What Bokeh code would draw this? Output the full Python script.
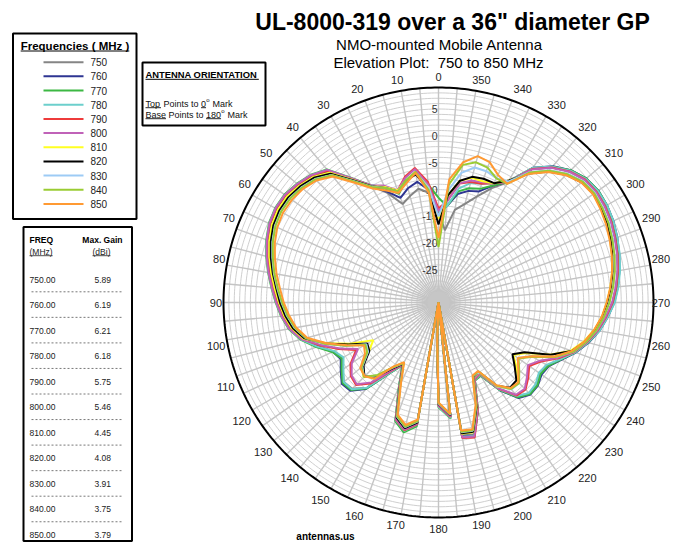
import math
import numpy as np
from bokeh.plotting import figure
from bokeh.models import Range1d
from bokeh.embed import file_html
from bokeh.resources import INLINE
from bokeh.core.properties import value

# ---------------- data ----------------
angles_deg = [0, 5, 10, 15, 20, 25, 30, 35, 40, 45, 50, 55, 60, 65, 70, 75, 80, 85, 90, 95,
              100, 105, 110, 115, 120, 125, 130, 135, 140, 145, 150, 155, 160, 165, 170, 175,
              178, 180, 186, 188,
              190, 195, 200, 205, 210, 215, 220, 225, 230, 235, 240, 245,
              250, 255, 260, 265, 270, 275, 280, 285, 290, 295, 300, 305, 310, 315, 320, 325,
              330, 335, 340, 345, 350, 355]

freq_labels = ["750", "760", "770", "780", "790", "800", "810", "820", "830", "840", "850"]

g750 = [-13, -9.5, -8.5, -9.5, -10.5, -7.5,
        -5, -2.2, 1.8, 3.3, 4.1, 4.7, 4.8, 4.5, 3.8, 2.9, 1.9, 0.9, 0.0, -0.9, -2.0, -3.8,
        -6.3, -8.5, -9.4, -8.2, -7.0, -7.3, -9.3, -14.0, -16.8, -13.0, -7.0, -5.6, -7.2, -30,
        -23, -11, -8.8, -30,
        -5.0, -4.6, -9.0, -14.2, -14.6, -10.3, -7.2, -6.1, -6.3, -7.0, -6.6, -5.0,
        -3.0, -1.4, 0.1, 1.3, 2.4, 3.2, 3.9, 4.5, 5.0, 5.5, 5.8, 5.9, 5.6, 4.5, 2.8, 0.3,
        -4.2, -6.5, -9.0, -11.0, -12.5, -16.5]
g760 = [-13, -9, -7.2, -8, -9.3, -7.2,
        -5, -2.0, 2.0, 3.4, 4.2, 4.8, 4.9, 4.6, 3.9, 3.0, 2.0, 1.0, 0.1, -0.8, -1.9, -3.6,
        -6.0, -8.3, -9.0, -7.8, -6.5, -6.8, -9.0, -13.8, -16.6, -12.6, -6.6, -5.2, -6.8, -30,
        -23, -10.8, -8.5, -30,
        -4.7, -4.3, -8.6, -14.0, -14.4, -10.0, -6.8, -5.8, -5.9, -6.6, -6.3, -4.8,
        -2.8, -1.1, 0.4, 1.6, 2.7, 3.5, 4.2, 4.8, 5.4, 5.9, 6.2, 6.3, 5.9, 4.8, 3.1, 0.6,
        -4.0, -6.0, -8.0, -8.5, -9.5, -12.0]
g770 = [-10.5, -8, -5.5, -6.5, -8.5, -6.5,
        -4.8, -1.7, 2.3, 3.6, 4.4, 5.0, 5.1, 4.8, 4.1, 3.2, 2.2, 1.2, 0.3, -0.6, -1.7, -3.4,
        -5.8, -8.2, -9.2, -8.0, -6.7, -7.0, -9.1, -13.8, -16.5, -12.5, -6.5, -5.0, -6.6, -30,
        -23, -10.5, -8.3, -30,
        -4.5, -4.2, -8.5, -14.0, -14.3, -10.1, -7.0, -5.9, -6.0, -6.8, -6.4, -4.9,
        -2.9, -1.2, 0.3, 1.5, 2.6, 3.4, 4.1, 4.7, 5.3, 5.8, 6.2, 6.3, 5.9, 4.8, 3.0, 0.5,
        -4.0, -6.0, -7.5, -8.0, -9.0, -12.0]
g780 = [-13, -8.5, -5.5, -6.5, -8, -6.3,
        -4.8, -1.8, 2.2, 3.5, 4.3, 4.9, 5.0, 4.7, 4.0, 3.1, 2.1, 1.1, 0.2, -0.7, -1.8, -3.5,
        -6.0, -8.6, -9.6, -8.4, -7.0, -7.2, -9.3, -13.9, -16.6, -12.7, -6.7, -5.3, -6.9, -30,
        -23, -10.6, -8.4, -30,
        -4.6, -4.3, -8.7, -14.1, -14.5, -10.2, -7.3, -6.2, -6.4, -7.2, -6.8, -5.0,
        -2.9, -1.2, 0.4, 1.6, 2.8, 3.6, 4.3, 4.9, 5.4, 5.9, 6.2, 6.2, 5.8, 4.7, 3.0, 0.6,
        -4.0, -5.5, -6.5, -7.0, -8.5, -12.0]
g790 = [-12.5, -7.5, -4.6, -5.8, -7.8, -6.3,
        -4.9, -1.9, 2.0, 3.4, 4.2, 4.8, 4.9, 4.6, 3.9, 3.0, 2.0, 1.0, 0.1, -0.8, -1.9, -3.7,
        -6.6, -9.5, -12.3, -10.0, -8.7, -8.3, -10.3, -14.3, -16.7, -12.8, -6.8, -5.4, -7.0, -30,
        -23, -10.8, -8.6, -30,
        -4.4, -4.0, -8.6, -14.2, -14.7, -10.4, -7.4, -7.1, -8.2, -9.4, -8.0, -5.4,
        -3.1, -1.4, 0.1, 1.3, 2.4, 3.2, 3.9, 4.5, 5.0, 5.5, 5.8, 5.9, 5.6, 4.5, 2.8, 0.3,
        -4.1, -5.5, -6.5, -6.8, -7.5, -11.0]
g800 = [-13, -8, -4.8, -6, -7.8, -6,
        -4.8, -1.8, 2.2, 3.5, 4.3, 4.9, 5.0, 4.7, 4.0, 3.1, 2.1, 1.1, 0.2, -0.7, -1.8, -3.6,
        -6.8, -9.8, -12.7, -10.3, -8.9, -8.5, -10.6, -14.5, -16.8, -12.9, -6.9, -5.5, -7.1, -30,
        -23, -10.9, -8.7, -30,
        -4.5, -4.2, -8.7, -14.3, -14.8, -10.5, -7.6, -7.3, -8.5, -9.7, -8.3, -5.6,
        -3.2, -1.5, 0.0, 1.2, 2.3, 3.1, 3.8, 4.4, 4.9, 5.4, 5.7, 5.8, 5.5, 4.4, 2.7, 0.2,
        -4.1, -5.5, -6.2, -6.5, -7.5, -11.0]
g810 = [-14.5, -8.5, -5.5, -6.5, -7.8, -6.3,
        -5.0, -2.1, 1.5, 3.0, 3.8, 4.4, 4.5, 4.2, 3.5, 2.6, 1.6, 0.6, -0.3, -1.2, -2.3, -4.0,
        -7.9, -11.8, -16.0, -14.2, -11.3, -10.3, -12.2, -15.3, -17.0, -13.2, -7.3, -5.9, -7.4, -30,
        -23, -11.2, -9.0, -30,
        -5.2, -5.0, -9.2, -14.6, -15.0, -10.9, -9.0, -9.0, -11.0, -13.0, -11.2, -7.0,
        -3.8, -2.0, -0.6, 0.5, 1.3, 2.1, 2.8, 3.4, 4.0, 4.5, 4.9, 5.2, 4.8, 3.6, 1.8, -0.7,
        -3.8, -5.5, -6.0, -6.0, -7.0, -10.0]
g820 = [-15.5, -9, -5.8, -6.5, -8, -6.5,
        -5.0, -2.2, 1.3, 2.8, 3.6, 4.1, 4.2, 3.9, 3.2, 2.3, 1.3, 0.3, -0.5, -1.4, -2.5, -4.2,
        -7.7, -11.5, -14.7, -14.3, -11.8, -10.5, -12.0, -15.0, -16.9, -13.1, -7.2, -5.8, -7.3, -30,
        -23, -11.1, -8.9, -30,
        -5.3, -5.1, -9.3, -14.7, -15.1, -11.1, -9.3, -9.5, -11.5, -13.2, -11.5, -7.0,
        -3.6, -1.8, -0.5, 0.6, 1.4, 2.2, 2.9, 3.5, 4.1, 4.6, 5.0, 5.2, 4.8, 3.6, 1.8, -0.7,
        -3.8, -5.5, -5.5, -5.8, -7.0, -10.0]
g830 = [-14, -8.5, -5.5, -6.5, -8, -6.5,
        -5.1, -2.4, 1.0, 2.5, 3.3, 3.8, 3.9, 3.6, 2.9, 2.0, 1.1, 0.1, -0.8, -1.7, -2.8, -4.4,
        -7.5, -11.0, -14.5, -14.0, -11.5, -10.4, -12.3, -15.2, -17.0, -13.2, -7.4, -6.0, -7.5, -30,
        -23, -11.2, -9.0, -30,
        -5.5, -5.3, -9.5, -14.8, -15.1, -11.0, -8.9, -8.8, -10.5, -12.0, -10.0, -6.0,
        -3.3, -1.6, -0.2, 0.9, 1.8, 2.6, 3.3, 3.9, 4.5, 5.0, 5.3, 5.5, 5.1, 3.9, 2.1, -0.4,
        -4.0, -4.5, -4.0, -4.0, -5.5, -9.0]
g840 = [-19.7, -9, -5.3, -6.5, -8, -6.5,
        -5.2, -2.5, 0.9, 2.4, 3.2, 3.7, 3.8, 3.5, 2.8, 1.9, 1.0, 0.0, -0.9, -1.8, -2.9, -4.5,
        -7.5, -11.0, -14.3, -13.8, -11.3, -10.4, -12.4, -15.3, -17.1, -13.3, -7.5, -6.1, -7.6, -30,
        -23, -11.3, -9.1, -30,
        -5.6, -5.4, -9.6, -14.9, -15.2, -11.1, -9.0, -8.8, -10.4, -11.8, -9.8, -6.0,
        -3.3, -1.6, -0.2, 0.9, 1.8, 2.6, 3.3, 3.9, 4.4, 4.9, 5.2, 5.4, 5.0, 3.8, 2.0, -0.5,
        -4.5, -4.5, -3.3, -3.0, -4.0, -8.0]
g850 = [-18, -9.5, -5.5, -7, -8.3, -7,
        -5.5, -2.8, 0.6, 2.1, 2.9, 3.3, 3.4, 3.1, 2.4, 1.5, 0.6, -0.4, -1.2, -2.1, -3.1, -4.7,
        -7.8, -11.2, -14.0, -13.3, -11.0, -10.6, -11.5, -15.5, -17.2, -13.5, -7.8, -6.4, -7.9, -30,
        -23, -11.4, -9.2, -30,
        -5.8, -5.6, -9.8, -15.0, -15.3, -11.2, -9.2, -9.0, -10.6, -12.0, -10.0, -6.2,
        -3.6, -1.9, -0.6, 0.5, 1.3, 2.1, 2.8, 3.4, 3.9, 4.4, 4.8, 5.1, 4.7, 3.5, 1.7, -0.8,
        -4.5, -3.8, -2.2, -1.8, -3.5, -7.0]

series = [g750, g760, g770, g780, g790, g800, g810, g820, g830, g840, g850]
colors = ["#858585", "#2e3592", "#3cb843", "#6ccfcc", "#ee3b3b", "#c062b8",
          "#ffff22", "#000000", "#9dcbf5", "#9acc33", "#ff9a33"]

table_freqs = ["750.00", "760.00", "770.00", "780.00", "790.00", "800.00",
               "810.00", "820.00", "830.00", "840.00", "850.00"]
max_gain = ["5.89", "6.19", "6.21", "6.18", "5.75", "5.46", "4.45", "4.08", "3.91", "3.75", "3.79"]

angle_ticks = list(range(0, 360, 10))
ring_ticks = [5, 0, -5, -10, -15, -20, -25]
r_min, r_max = -30, 10

# ---------------- layout helpers ----------------
W, H = 671, 542
CX, CY = 438.0, 302.0     # pixel position of the polar centre
S = 5.375                 # pixels per dB


def X(px):
    return (px - CX) / S


def Y(py):
    return (CY - py) / S


FONT = value("Liberation Sans")
REG = {' ': 278, '(': 333, ')': 333, '.': 278, '-': 333, ':': 278, 'A': 667, 'B': 667, 'E': 667,
       'M': 833, 'P': 667, 'T': 611, 'a': 556, 'e': 556, 'i': 222, 'k': 500, 'n': 556, 'o': 556,
       'p': 556, 'r': 333, 's': 500, 't': 278, 'H': 722, 'z': 500, 'd': 556, 'l': 222}
BLD = {' ': 278, '(': 333, ')': 333, '.': 278, 'A': 722, 'E': 667, 'I': 278, 'N': 722, 'O': 778,
       'R': 722, 'T': 611, 'F': 611, 'Q': 778, 'M': 833, 'G': 778, 'H': 722, 'a': 556, 'i': 278,
       'n': 611, 'x': 556, 'z': 500, 'r': 389, 'e': 556, 'q': 611, 'u': 611, 'c': 556, 's': 556,
       't': 333}


def tw(s, size, bold=False):
    tab = BLD if bold else REG
    return sum(tab.get(c, 556) for c in s) / 1000.0 * size


p = figure(width=W, height=H, output_backend="svg", toolbar_location=None,
           x_range=Range1d(X(0), X(W)), y_range=Range1d(Y(H), Y(0)),
           x_axis_type=None, y_axis_type=None, min_border=0)
p.grid.visible = False
p.outline_line_color = None
p.background_fill_color = "white"
p.border_fill_color = "white"


def text(xp, yp, s, size, bold=False, align="left", baseline="middle", color="#000000"):
    p.text(x=[X(xp)], y=[Y(yp)], text=[s], text_font=FONT, text_font_size=value(f"{size}px"),
           text_font_style="bold" if bold else "normal", text_align=align,
           text_baseline=baseline, text_color=color)


def hline(x0, x1, yp, color="#000000", width=1.0, dash="solid"):
    p.segment(x0=[X(x0)], y0=[Y(yp)], x1=[X(x1)], y1=[Y(yp)], line_color=color,
              line_width=width, line_dash=dash)


def box(l, t, r, b, width=2):
    p.quad(left=[X(l)], right=[X(r)], top=[Y(t)], bottom=[Y(b)], fill_color=None,
           line_color="#000000", line_width=width)


# ---------------- polar grid ----------------
span = r_max - r_min
th = np.linspace(0, 2 * np.pi, 361)
ring_xs = [list(k * np.sin(th)) for k in range(1, span)]
ring_ys = [list(k * np.cos(th)) for k in range(1, span)]
p.multi_line(xs=ring_xs, ys=ring_ys, line_color="#cfcfcf", line_width=1)

sp = np.radians(np.arange(0, 360, 5))
p.segment(x0=np.zeros(len(sp)), y0=np.zeros(len(sp)), x1=-span * np.sin(sp), y1=span * np.cos(sp),
          line_color="#c4c4c4", line_width=1.4)
p.scatter(x=[0], y=[0], size=22, marker="circle", fill_color="#c6c6c6", line_color=None)
p.line(x=list(span * np.sin(th)), y=list(span * np.cos(th)), line_color="#000000", line_width=2)

for v in ring_ticks:
    ry = CY - (v - r_min) * S
    text(CX - 1, ry - 1.5, str(v), 10.5, align="right", baseline="bottom", color="#333333")

# ---------------- series ----------------
a_rad = np.radians(np.array(angles_deg + [angles_deg[0]], dtype=float))
for vals, col in zip(series, colors):
    r = np.clip(np.array(vals + [vals[0]], dtype=float) - r_min, 0, None)
    p.line(x=-r * np.sin(a_rad), y=r * np.cos(a_rad), line_color=col, line_width=2)

# ---------------- angle labels ----------------
for a in angle_ticks:
    t = math.radians(a)
    s = str(a)
    w = 6.1 * len(s)
    ox = max(-1, min(1, -3 * math.sin(t))) * (w / 2 + 1.5)
    oy = max(-1, min(1, 3 * math.cos(t))) * 11
    px_ = CX - 215 * math.sin(t) + ox
    py_ = CY - 215 * math.cos(t) - oy
    px_ = min(px_, W - 1.5 - w / 2)
    text(px_, py_, s, 11, align="center", baseline="middle", color="#222222")

# ---------------- titles ----------------
text(452, 21, 'UL-8000-319 over a 36" diameter GP', 23, bold=True, align="center")
text(439, 44, "NMO-mounted Mobile Antenna", 15, align="center")
text(438, 62, "Elevation Plot:\u00a0 750 to 850 MHz", 15, align="center")
text(325, 536, "antennas.us", 10, bold=True, align="center")

# ---------------- frequency legend ----------------
box(12.5, 33, 136, 218.5)
lt = "Frequencies ( MHz )"
text(74.5, 45, lt, 11.5, bold=True, align="center")
lw = tw(lt, 11.5, True)
hline(74.5 - lw / 2, 74.5 + lw / 2, 50.5, width=1)
for i, (lab, col) in enumerate(zip(freq_labels, colors)):
    yy = 61.7 + 14.17 * i
    hline(43, 83, yy, color=col, width=2)
    text(90, yy, lab, 10, color="#222222")

# ---------------- antenna orientation box ----------------
box(142, 62, 265, 125)
ot = "ANTENNA ORIENTATION"
text(145, 74, ot, 9.4, bold=True)
hline(145, 145 + tw(ot, 9.4, True), 78.8, width=1)


def runs(x0, yc, parts, size=9):
    x = x0
    for s, kind in parts:
        if kind == "sup":
            text(x + 0.3, yc - 3.5, s, 6, color="#111111")
            x += tw(s, 6) + 0.6
            continue
        lead = len(s) - len(s.lstrip(" "))
        body = s.strip(" ")
        xs = x + tw(" " * lead, size)
        text(xs, yc, body, size, color="#111111")
        if kind == "u":
            hline(xs, xs + tw(body, size), yc + 4.2, color="#111111", width=0.9)
        x += tw(s, size)


runs(145, 103, [("Top", "u"), (" Points to ", ""), ("0", "u"), ("o", "sup"), (" Mark", "")])
runs(145, 114, [("Base", "u"), (" Points to ", ""), ("180", "u"), ("o", "sup"), (" Mark", "")])

# ---------------- max gain table ----------------
box(23, 226.5, 131.5, 540.5)
text(29, 239.5, "FREQ", 8.5, bold=True)
text(122, 239.5, "Max. Gain", 8.5, bold=True, align="right")
text(29, 251, "(MHz)", 8.5, color="#222222")
hline(29, 29 + tw("(MHz)", 8.5), 255.2, color="#222222", width=0.8)
gx = 101
text(gx, 251, "(dBi)", 8.5, align="center", color="#222222")
gwid = tw("(dBi)", 8.5)
hline(gx - gwid / 2, gx + gwid / 2, 255.2, color="#222222", width=0.8)
for i, (fq, g) in enumerate(zip(table_freqs, max_gain)):
    yy = 279 + 25.55 * i
    text(29, yy, fq, 8.5, color="#222222")
    text(110.5, yy, g, 8.5, align="right", color="#222222")
    if i < len(table_freqs) - 1:
        hline(31, 122, yy + 12.3, color="#555555", width=0.8, dash="2 2")

open("out.html", "w").write(file_html(p, INLINE))
